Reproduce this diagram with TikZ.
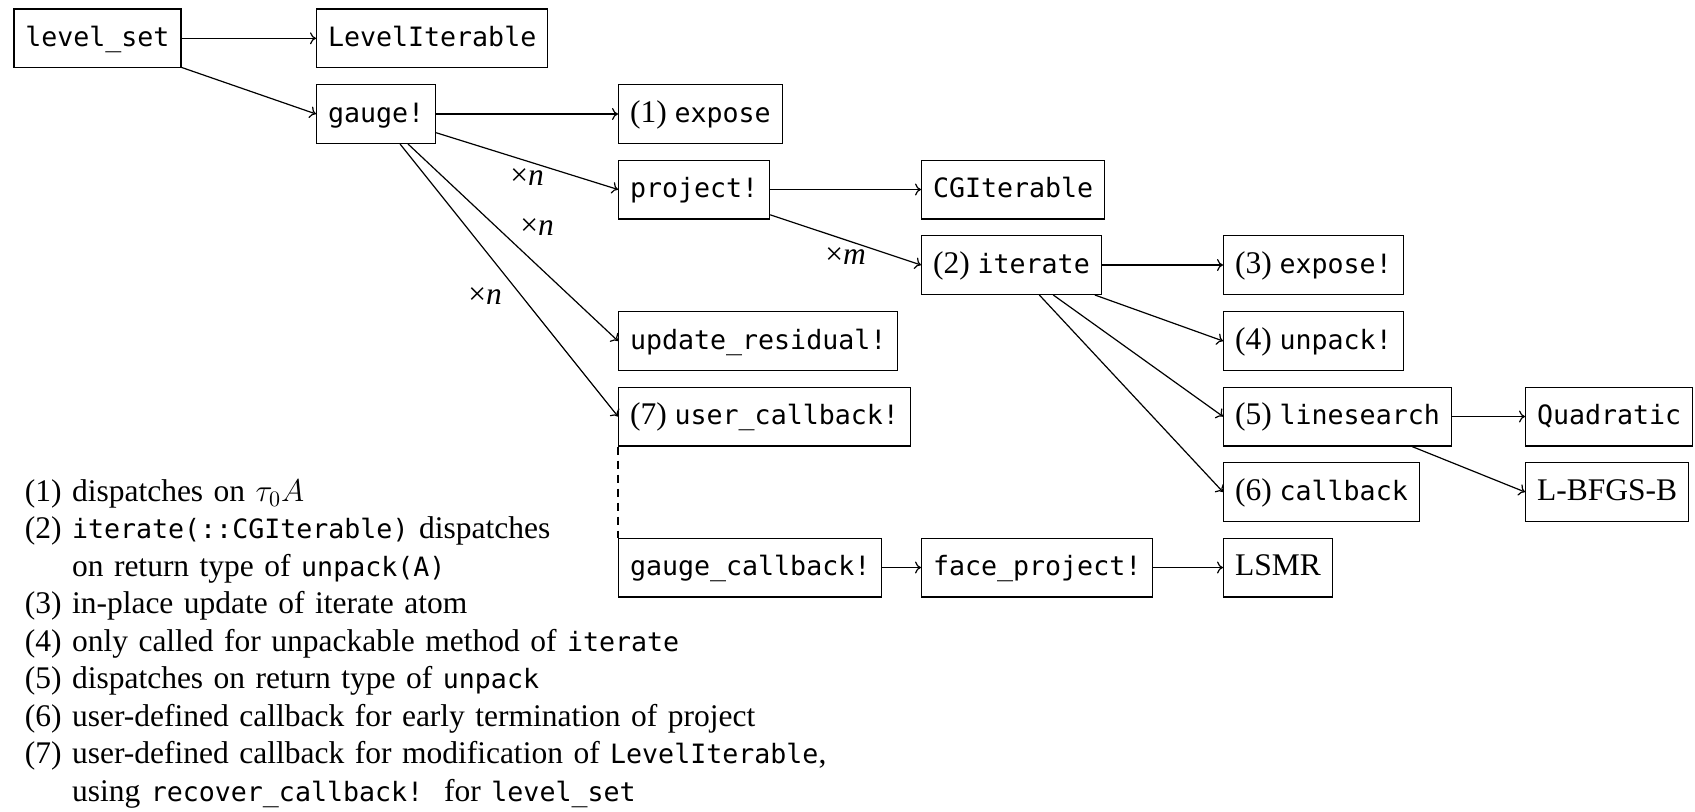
\RequirePackage{fix-cm}
\documentclass[tikz,border=0pt]{standalone}
\usepackage{fontspec}
\setmainfont{Liberation Serif}
\setmonofont[Scale=0.845]{DejaVu Sans Mono}
\usetikzlibrary{arrows.meta}
\begin{document}
\begin{tikzpicture}[x=1pt,y=-1pt,
  basefont/.style={font=\fontsize{15.75pt}{18.75pt}\selectfont},
  box/.style={basefont, draw, line width=0.6pt, anchor=west, inner xsep=5.7pt, inner ysep=8.2pt, text height=10.5pt, text depth=2.5pt},
  arr/.style={line width=0.6pt, -{To[length=3pt,width=6pt]}},
  lbl/.style={basefont, inner sep=3.33pt},
  notes/.style={basefont, align=left, text width=800pt, inner sep=0pt, anchor=north west}]
\useasboundingbox (0,0) rectangle (847.5,405.5);

% nodes
\node[box] (ls)   at (6.65,19.15)  {\texttt{level\_set}};
\node[box] (li)   at (158,19.15)   {\texttt{LevelIterable}};
\node[box] (g)    at (158,57)      {\texttt{gauge!}};
\node[box] (e1)   at (309,57)      {(1) \texttt{expose}};
\node[box] (pr)   at (309,94.75)   {\texttt{project!}};
\node[box] (cg)   at (460.5,94.75) {\texttt{CGIterable}};
\node[box] (it)   at (460.5,132.5) {(2) \texttt{iterate}};
\node[box] (e3)   at (611.5,132.5) {(3) \texttt{expose!}};
\node[box] (up)   at (611.5,170.5) {(4) \texttt{unpack!}};
\node[box] (ur)   at (309,170.5)   {\texttt{update\_residual!}};
\node[box] (lsr)  at (611.5,208.25){(5) \texttt{linesearch}};
\node[box] (uc)   at (309,208.25)  {(7) \texttt{user\_callback!}};
\node[box] (q)    at (762.5,208.25){\texttt{Quadratic}};
\node[box] (cb)   at (611.5,246)   {(6) \texttt{callback}};
\node[box] (lb)   at (762.5,246)   {L-BFGS-B};
\node[box] (gc)   at (309,283.75)  {\texttt{gauge\_callback!}};
\node[box] (fp)   at (460.5,283.75){\texttt{face\_project!}};
\node[box] (lsmr) at (611.5,283.75){LSMR};

% connectors
\draw[arr] (ls.east) -- (li.west);
\draw[arr] (ls) -- (g.west);
\draw[arr] (g.east) -- (e1.west);
\draw[arr] (g) -- node[lbl, below] {×\textit{n}} (pr.west);
\draw[arr] (g) -- node[lbl, above right] {×\textit{n}} (ur.west);
\draw[arr] (g) -- node[lbl, below left] {×\textit{n}} (uc.west);
\draw[arr] (pr.east) -- (cg.west);
\draw[arr] (pr) -- node[lbl, below] {×\textit{m}} (it.west);
\draw[arr] (it.east) -- (e3.west);
\draw[arr] (it) -- (up.west);
\draw[arr] (it) -- (lsr.west);
\draw[arr] (it) -- (cb.west);
\draw[arr] (lsr.east) -- (q.west);
\draw[arr] (lsr) -- (lb.west);
\draw[line width=0.6pt, dash pattern=on 4pt off 3pt] (uc.south west) -- (gc.north west);
\draw[arr] (gc.east) -- (fp.west);
\draw[arr] (fp.east) -- (lsmr.west);

% notes
\node[notes] (notes) at (12.2,237.4) {%
\strut(1) dispatches on $\tau_0 A$\\
\strut(2) \texttt{iterate(::CGIterable)} dispatches\\
\strut\hphantom{(2)} on return type of \texttt{unpack(A)}\\
\strut(3) in-place update of iterate atom\\
\strut(4) only called for unpackable method of \texttt{iterate}\\
\strut(5) dispatches on return type of \texttt{unpack}\\
\strut(6) user-defined callback for early termination of project\\
\strut(7) user-defined callback for modification of \texttt{LevelIterable},\\
\strut\hphantom{(7)} using \texttt{recover\_callback!}\ \ for \texttt{level\_set}};
\end{tikzpicture}
\end{document}
